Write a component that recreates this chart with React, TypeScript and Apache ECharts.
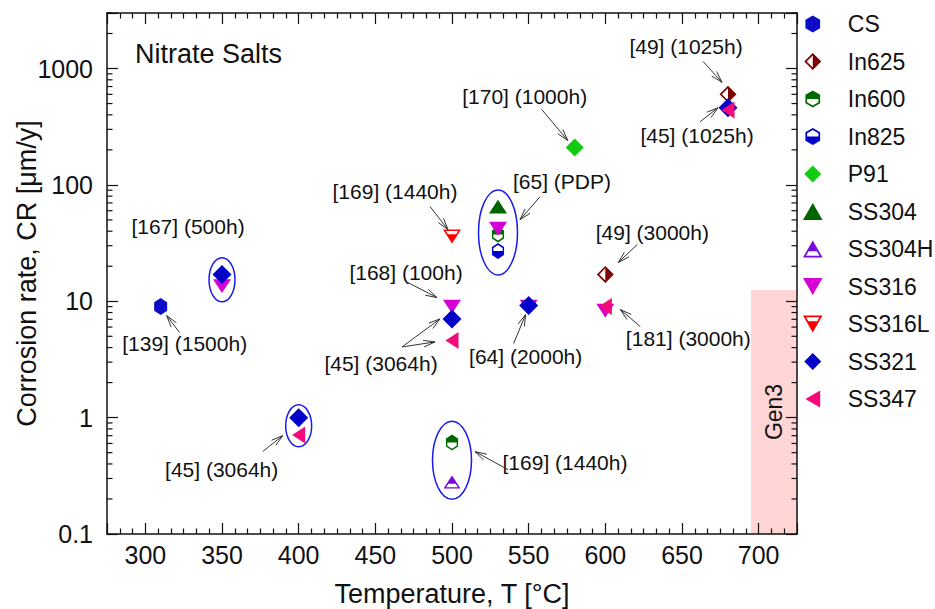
import React, { useEffect, useRef } from 'react';
import * as echarts from 'echarts';

// ---------------- data ----------------
const X_MIN = 275;
const X_MAX = 725;
const Y_MIN = 0.1;
const Y_MAX = 3000;
const X_TICK_LABELS = [300, 350, 400, 450, 500, 550, 600, 650, 700];
const Y_TICK_LABELS = [0.1, 1, 10, 100, 1000];

const SERIES_NAMES = ['CS', 'In625', 'In600', 'In825', 'P91', 'SS304', 'SS304H', 'SS316', 'SS316L', 'SS321', 'SS347'];

const CS_T = [310];
const CS_CR = [9];
const IN625_T = [600, 680];
const IN625_CR = [17, 600];
const IN600_T = [500, 530];
const IN600_CR = [0.61, 37.5];
const IN825_T = [530];
const IN825_CR = [27];
const P91_T = [580];
const P91_CR = [210];
const SS304_T = [530];
const SS304_CR = [65];
const SS304H_T = [500];
const SS304H_CR = [0.28];
const SS316_T = [350, 500, 530, 550, 600];
const SS316_CR = [13.5, 9, 42, 9, 8.3];
const SS316L_T = [500];
const SS316L_CR = [36];
const SS321_T = [350, 400, 500, 550, 680];
const SS321_CR = [17, 1.0, 7.05, 9.2, 460];
const SS347_T = [400, 500, 600, 680];
const SS347_CR = [0.71, 4.6, 9, 440];

// groups circled in the figure (centre temperature, centre CR)
const ELLIPSE_T = [350, 400, 530, 500];
const ELLIPSE_CR = [15.3, 0.85, 39, 0.43];

// annotations: text and the point each one refers to
const ANNOT_TEXT = ['[167] (500h)', '[139] (1500h)', '[45] (3064h)', '[169] (1440h)', '[168] (100h)', '[45] (3064h)', '[64] (2000h)', '[65] (PDP)', '[170] (1000h)', '[49] (1025h)', '[45] (1025h)', '[49] (3000h)', '[181] (3000h)', '[169] (1440h)'];
const ANNOT_T = [350, 310, 400, 500, 500, 500, 550, 530, 580, 680, 680, 600, 600, 500];
const ANNOT_CR = [17, 9, 1, 36, 9, 7.05, 9.2, 42, 210, 600, 460, 17, 9, 0.61];

const GEN3_T = [695, 725];
const GEN3_CR = [0.1, 12.5];

// ---------------- layout / style ----------------
const FONT = '"Liberation Sans", Arial, Helvetica, sans-serif';
const INK = '#111';

const ELLIPSE_RADII = [[13, 22], [13, 21], [19.5, 42.5], [19.5, 39]];

// [textDx, textDy], arrows [fromDx, fromDy, toDx, toDy] relative to the referenced point (px)
const ANNOT_LAYOUT: { t: number[]; a: number[][] }[] = [
  { t: [-34, -48], a: [] },
  { t: [24, 37], a: [[19, 26, 6, 9]] },
  { t: [-77, 52], a: [[-36, 34, -16, 18]] },
  { t: [-57, -45], a: [[-22, -30, -4, -7]] },
  { t: [-46, -34], a: [[-44, -24, -15, -9]] },
  { t: [-71, 45], a: [[-50, 28, -12, 0], [-50, 28, -17, 23]] },
  { t: [-3, 51], a: [[-15, 38, -3, 9]] },
  { t: [64, -47], a: [[42, -32, 22, -9]] },
  { t: [-50, -51], a: [[-33, -38, -7, -7]] },
  { t: [-42, -48], a: [[-25, -33, -6, -12]] },
  { t: [-31, 28], a: [[-28, 14, -10, 0]] },
  { t: [47, -42], a: [[32, -30, 13, -12]] },
  { t: [83, 32], a: [[35, 20, 15, 3]] },
  { t: [113, 20], a: [[56, 27, 23, 9]] },
];

type P = [number, number];
const polyPath = (pts: P[]) => 'M' + pts.map((p) => p[0].toFixed(2) + ' ' + p[1].toFixed(2)).join(' L') + ' Z';
const signedArea = (pts: P[]) => {
  let s = 0;
  for (let i = 0; i < pts.length; i++) {
    const a = pts[i];
    const b = pts[(i + 1) % pts.length];
    s += a[0] * b[1] - b[0] * a[1];
  }
  return s / 2;
};
const orient = (pts: P[], sign: number): P[] => (Math.sign(signedArea(pts)) === sign ? pts : pts.slice().reverse());
const inset = (pts: P[], d: number): P[] => {
  const n = pts.length;
  const c = pts.reduce((acc, p) => [acc[0] + p[0] / n, acc[1] + p[1] / n], [0, 0]);
  const lines = pts.map((p, i) => {
    const q = pts[(i + 1) % n];
    const len = Math.hypot(q[0] - p[0], q[1] - p[1]);
    const e = [(q[0] - p[0]) / len, (q[1] - p[1]) / len];
    let nx = -e[1];
    let ny = e[0];
    if (nx * (c[0] - p[0]) + ny * (c[1] - p[1]) < 0) {
      nx = -nx;
      ny = -ny;
    }
    return { a: [p[0] + d * nx, p[1] + d * ny], e };
  });
  return pts.map((_, i) => {
    const l1 = lines[(i - 1 + n) % n];
    const l2 = lines[i];
    const cross = (u: number[], v: number[]) => u[0] * v[1] - u[1] * v[0];
    const diff = [l2.a[0] - l1.a[0], l2.a[1] - l1.a[1]];
    const t = cross(diff, l2.e) / cross(l1.e, l2.e);
    return [l1.a[0] + t * l1.e[0], l1.a[1] + t * l1.e[1]] as P;
  });
};
const halfPath = (outer: P[], fill: P[], t: number) => {
  const o = orient(outer, 1);
  const inn = orient(inset(o, t), -1);
  const f = orient(fill, 1);
  return 'path://' + polyPath(o) + ' ' + polyPath(inn) + ' ' + polyPath(f);
};

const HEX: P[] = [[50, 0], [93.3, 25], [93.3, 75], [50, 100], [6.7, 75], [6.7, 25]];
const DIAM: P[] = [[50, 0], [100, 50], [50, 100], [0, 50]];
const TRI_UP: P[] = [[50, 0], [100, 87], [0, 87]];
const TRI_DOWN: P[] = [[0, 0], [100, 0], [50, 87]];
const TRI_LEFT: P[] = [[0, 50], [87, 0], [87, 100]];

const SYMBOLS: Record<string, string> = {
  CS: 'path://' + polyPath(HEX),
  In625: halfPath(DIAM, [[50, 0], [100, 50], [50, 100]], 10),
  In600: halfPath(HEX, [[50, 0], [93.3, 25], [93.3, 50], [6.7, 50], [6.7, 25]], 10),
  In825: halfPath(HEX, [[6.7, 50], [93.3, 50], [93.3, 75], [50, 100], [6.7, 75]], 10),
  P91: 'path://' + polyPath(DIAM),
  SS304: 'path://' + polyPath(TRI_UP),
  SS304H: halfPath(TRI_UP, [[50, 0], [81.6, 55], [18.4, 55]], 9),
  SS316: 'path://' + polyPath(TRI_DOWN),
  SS316L: halfPath(TRI_DOWN, [[17.2, 30], [82.8, 30], [50, 87]], 9),
  SS321: 'path://' + polyPath(DIAM),
  SS347: 'path://' + polyPath(TRI_LEFT),
};
const COLORS: Record<string, string> = {
  CS: '#0d0dc8',
  In625: '#7f0000',
  In600: '#006a00',
  In825: '#0000cc',
  P91: '#11cc11',
  SS304: '#006400',
  SS304H: '#7a0ad8',
  SS316: '#d400d4',
  SS316L: '#ff0000',
  SS321: '#0000c8',
  SS347: '#f5087a',
};
const SIZES: Record<string, number[]> = {
  CS: [15, 17],
  In625: [17, 17],
  In600: [14, 16],
  In825: [14, 16],
  P91: [18, 18],
  SS304: [18, 16],
  SS304H: [17, 15],
  SS316: [18, 16],
  SS316L: [18, 16],
  SS321: [19, 19],
  SS347: [15, 17],
};

const SERIES_VALUES: Record<string, [number[], number[]]> = {
  CS: [CS_T, CS_CR],
  In625: [IN625_T, IN625_CR],
  In600: [IN600_T, IN600_CR],
  In825: [IN825_T, IN825_CR],
  P91: [P91_T, P91_CR],
  SS304: [SS304_T, SS304_CR],
  SS304H: [SS304H_T, SS304H_CR],
  SS316: [SS316_T, SS316_CR],
  SS316L: [SS316L_T, SS316L_CR],
  SS321: [SS321_T, SS321_CR],
  SS347: [SS347_T, SS347_CR],
};

const zip = (a: number[], b: number[]) => a.map((v, i) => [v, b[i]]);

const isPow10 = (v: number) => {
  const l = Math.log10(v);
  return Math.abs(l - Math.round(l)) < 1e-6;
};

export default function App() {
  const ref = useRef<HTMLDivElement>(null);

  useEffect(() => {
    if (!ref.current) return;
    const chart = echarts.init(ref.current, undefined, { renderer: 'svg' });

    const axisLine = { show: true, onZero: false, lineStyle: { color: INK, width: 1.5 } };
    const tickStyle = { color: INK, width: 1.2 };

    const scatterSeries = SERIES_NAMES.map((name, idx) => ({
      name,
      type: 'scatter',
      xAxisIndex: 0,
      yAxisIndex: 0,
      data: zip(SERIES_VALUES[name][0], SERIES_VALUES[name][1]),
      symbol: SYMBOLS[name],
      symbolSize: SIZES[name],
      symbolKeepAspect: true,
      itemStyle: { color: COLORS[name], borderWidth: 0, opacity: 1 },
      emphasis: { disabled: true },
      silent: true,
      z: 3,
      markArea:
        idx === 0
          ? {
              silent: true,
              itemStyle: { color: '#ffd5d5', opacity: 1 },
              label: {
                show: true,
                position: 'inside',
                rotate: 90,
                fontSize: 23,
                fontFamily: FONT,
                color: INK,
              },
              data: [[{ name: 'Gen3', coord: [GEN3_T[0], GEN3_CR[0]] }, { coord: [GEN3_T[1], GEN3_CR[1]] }]],
            }
          : undefined,
    }));

    const minorLogValues: number[] = [];
    Y_TICK_LABELS.forEach((d) => {
      for (let m = 2; m <= 9; m++) if (m * d <= Y_MAX) minorLogValues.push(m * d);
    });

    const option: any = {
      animation: false,
      backgroundColor: '#ffffff',
      textStyle: { fontFamily: FONT },
      title: {
        text: 'Nitrate Salts',
        left: 135,
        top: 40,
        padding: 0,
        textStyle: { fontSize: 27, fontWeight: 'normal', color: INK, fontFamily: FONT },
      },
      grid: { left: 107, right: 138, top: 13, bottom: 75, containLabel: false, outerBoundsMode: 'none' },
      legend: {
        orient: 'vertical',
        left: 803,
        top: 12,
        padding: 0,
        itemWidth: 60,
        itemHeight: 17,
        itemGap: 13.5,
        selectedMode: false,
        symbolKeepAspect: true,
        data: SERIES_NAMES,
        textStyle: { fontSize: 23, color: INK, fontFamily: FONT, lineHeight: 24 },
      },
      xAxis: [
        {
          type: 'value',
          position: 'bottom',
          min: X_MIN,
          max: X_MAX,
          splitNumber: 9,
          z: 5,
          name: 'Temperature, T [°C]',
          nameLocation: 'middle',
          nameGap: 46,
          nameMoveOverlap: false,
          nameTextStyle: { fontSize: 27, color: INK, fontFamily: FONT },
          axisLine,
          axisTick: { show: true, inside: true, length: 11, lineStyle: tickStyle },
          minorTick: { show: true, splitNumber: 6, length: 5.5, lineStyle: tickStyle },
          splitLine: { show: false },
          axisLabel: {
            fontSize: 25,
            color: INK,
            fontFamily: FONT,
            margin: 8,
            formatter: (v: number) => (X_TICK_LABELS.includes(Math.round(v)) && Math.abs(v - Math.round(v)) < 1e-6 ? String(Math.round(v)) : ''),
          },
        },
        {
          type: 'value',
          position: 'top',
          min: X_MIN,
          max: X_MAX,
          splitNumber: 9,
          z: 5,
          axisLine,
          axisTick: { show: true, inside: true, length: 11, lineStyle: tickStyle },
          minorTick: { show: true, splitNumber: 6, length: 5.5, lineStyle: tickStyle },
          splitLine: { show: false },
          axisLabel: { show: false },
        },
      ],
      yAxis: [
        {
          type: 'log',
          logBase: 10,
          position: 'left',
          min: Y_MIN,
          max: Y_MAX,
          z: 5,
          name: 'Corrosion rate, CR [μm/y]',
          nameLocation: 'middle',
          nameGap: 67,
          nameMoveOverlap: false,
          nameTextStyle: { fontSize: 27, color: INK, fontFamily: FONT },
          axisLine,
          axisTick: { show: true, inside: true, length: 11, lineStyle: tickStyle },
          minorTick: { show: false },
          splitLine: { show: false },
          axisLabel: {
            fontSize: 25,
            color: INK,
            fontFamily: FONT,
            margin: 14,
            formatter: (v: number) => (isPow10(v) ? String(Y_TICK_LABELS.find((t) => Math.abs(t - v) / t < 1e-6) ?? '') : ''),
          },
        },
        {
          type: 'log',
          logBase: 10,
          position: 'right',
          min: Y_MIN,
          max: Y_MAX,
          z: 5,
          axisLine,
          axisTick: { show: true, inside: true, length: 11, lineStyle: tickStyle },
          minorTick: { show: false },
          splitLine: { show: false },
          axisLabel: { show: false },
        },
      ],
      series: [
        ...scatterSeries,
        {
          name: 'groups',
          type: 'custom',
          xAxisIndex: 0,
          yAxisIndex: 0,
          silent: true,
          z: 4,
          data: zip(ELLIPSE_T, ELLIPSE_CR),
          renderItem: (params: any, api: any) => {
            const p = api.coord([api.value(0), api.value(1)]);
            const r = ELLIPSE_RADII[params.dataIndex];
            return {
              type: 'ellipse',
              shape: { cx: p[0], cy: p[1], rx: r[0], ry: r[1] },
              style: { fill: 'none', stroke: '#1a1aee', lineWidth: 1.5 },
            };
          },
        },
        {
          name: 'notes',
          type: 'custom',
          xAxisIndex: 0,
          yAxisIndex: 0,
          silent: true,
          clip: false,
          z: 6,
          data: zip(ANNOT_T, ANNOT_CR),
          renderItem: (params: any, api: any) => {
            const i = params.dataIndex;
            const p = api.coord([api.value(0), api.value(1)]);
            const lay = ANNOT_LAYOUT[i];
            const children: any[] = [
              {
                type: 'text',
                x: p[0] + lay.t[0],
                y: p[1] + lay.t[1],
                style: {
                  text: ANNOT_TEXT[i],
                  fill: INK,
                  fontSize: 21,
                  fontFamily: FONT,
                  align: 'center',
                  verticalAlign: 'middle',
                  textAlign: 'center',
                  textVerticalAlign: 'middle',
                },
              },
            ];
            lay.a.forEach((a) => {
              const x1 = p[0] + a[0];
              const y1 = p[1] + a[1];
              const x2 = p[0] + a[2];
              const y2 = p[1] + a[3];
              const ang = Math.atan2(y2 - y1, x2 - x1);
              const L = 12;
              const s = 0.28;
              children.push({
                type: 'line',
                shape: { x1, y1, x2, y2 },
                style: { stroke: '#333', lineWidth: 1 },
              });
              children.push({
                type: 'polyline',
                shape: {
                  points: [
                    [x2 - L * Math.cos(ang - s), y2 - L * Math.sin(ang - s)],
                    [x2, y2],
                    [x2 - L * Math.cos(ang + s), y2 - L * Math.sin(ang + s)],
                  ],
                },
                style: { stroke: '#333', lineWidth: 1, fill: 'none' },
              });
            });
            return { type: 'group', children };
          },
        },
        {
          name: 'logMinorTicks',
          type: 'custom',
          xAxisIndex: 0,
          yAxisIndex: 0,
          silent: true,
          clip: false,
          z: 7,
          data: [[X_MIN, Y_MIN]],
          renderItem: (params: any, api: any) => {
            const cs = params.coordSys;
            const xl = cs.x;
            const xr = cs.x + cs.width;
            const children: any[] = [];
            minorLogValues.forEach((v) => {
              const y = api.coord([X_MIN, v])[1];
              children.push({ type: 'line', shape: { x1: xl, y1: y, x2: xl + 5.5, y2: y }, style: { stroke: INK, lineWidth: 1.2 } });
              children.push({ type: 'line', shape: { x1: xr, y1: y, x2: xr - 5.5, y2: y }, style: { stroke: INK, lineWidth: 1.2 } });
            });
            return { type: 'group', children };
          },
        },
      ],
    };

    chart.setOption(option);
    return () => chart.dispose();
  }, []);

  return (
    <div
      ref={ref}
      style={{ position: 'absolute', left: 0, top: 0, width: 935, height: 609, background: '#fff' }}
    />
  );
}
